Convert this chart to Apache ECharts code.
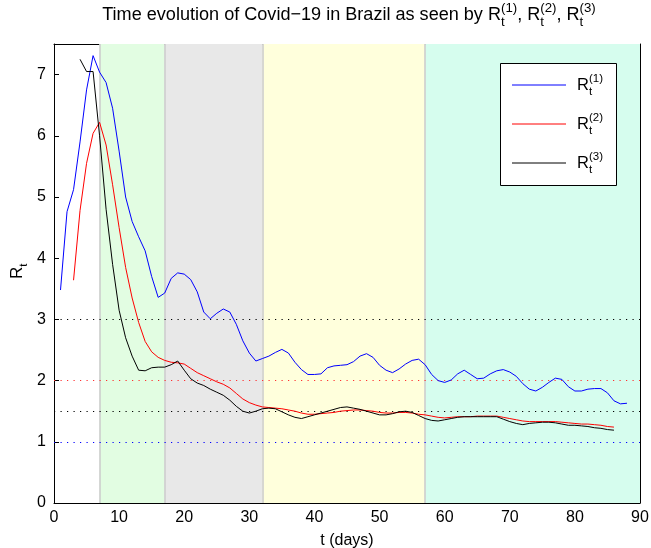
<!DOCTYPE html>
<html><head><meta charset="utf-8">
<script src="https://cdn.jsdelivr.net/npm/echarts@6/dist/echarts.min.js"></script>
<style>html,body{margin:0;padding:0;background:#fff}#c{width:651px;height:548px}</style>
</head><body><div id="c"></div>
<script>
// ---------- data ----------
const r1Start = 1;
const r1Values = [3.48,4.76,5.12,5.90,6.75,7.31,7.04,6.87,6.45,5.75,5.00,4.60,4.35,4.12,3.70,3.36,3.43,3.67,3.76,3.74,
  3.65,3.45,3.12,3.01,3.10,3.17,3.12,2.92,2.65,2.45,2.32,2.36,2.40,2.46,2.51,2.45,2.30,2.18,2.10,2.10,
  2.11,2.21,2.24,2.25,2.26,2.31,2.40,2.44,2.38,2.25,2.17,2.13,2.19,2.27,2.33,2.35,2.26,2.10,2.00,1.97,
  2.01,2.11,2.17,2.10,2.03,2.04,2.11,2.16,2.18,2.14,2.07,1.95,1.86,1.83,1.89,1.97,2.04,2.02,1.90,1.83,
  1.83,1.86,1.87,1.87,1.80,1.67,1.62,1.63];
const r2Start = 3;
const r2Values = [3.64,4.78,5.55,6.04,6.22,5.85,5.20,4.50,3.85,3.35,2.95,2.64,2.47,2.38,2.33,2.30,2.29,2.27,
  2.20,2.13,2.08,2.03,1.98,1.94,1.88,1.79,1.70,1.64,1.60,1.57,1.56,1.55,1.54,1.52,1.50,1.47,1.45,1.45,
  1.46,1.47,1.48,1.50,1.51,1.52,1.52,1.51,1.50,1.48,1.47,1.47,1.48,1.48,1.47,1.45,1.44,1.42,1.40,1.39,
  1.40,1.41,1.41,1.41,1.42,1.42,1.42,1.42,1.40,1.38,1.36,1.34,1.33,1.33,1.33,1.33,1.33,1.32,1.31,1.30,
  1.29,1.29,1.28,1.27,1.25,1.24];
const r3Start = 4;
const r3Values = [7.25,7.05,7.05,6.00,4.80,3.90,3.15,2.70,2.40,2.17,2.16,2.21,2.22,2.22,2.26,2.32,2.17,
  2.03,1.96,1.92,1.86,1.81,1.76,1.68,1.58,1.50,1.47,1.50,1.54,1.55,1.54,1.49,1.44,1.40,1.38,1.41,1.44,
  1.47,1.50,1.53,1.56,1.57,1.55,1.53,1.50,1.47,1.44,1.44,1.46,1.49,1.50,1.48,1.43,1.38,1.35,1.34,1.36,
  1.38,1.40,1.41,1.41,1.41,1.41,1.41,1.41,1.37,1.33,1.30,1.28,1.30,1.31,1.32,1.32,1.31,1.29,1.27,1.27,
  1.26,1.25,1.23,1.22,1.20,1.19];
const xTickValues = [0,10,20,30,40,50,60,70,80,90];
const yTickValues = [0,1,2,3,4,5,6,7];
const phaseEdges = [7,17,32,57,90];
const refLevels = [3,2,1.5,1];
const seriesNames = ['1','2','3'];

// ---------- styles ----------
const phaseColors = ['#e2fde2','#e8e8e8','#ffffdc','#d6fdee'];
const refColors = ['#000000','#ff3030','#000000','#0000ff'];
const lineColors = ['#0000ff','#ff0000','#000000'];
const FONT = "'Liberation Sans', Arial, Helvetica, sans-serif";

const ctx = document.createElement('canvas').getContext('2d');
function tw(t, size){ ctx.font = size + 'px ' + FONT; return ctx.measureText(t).width; }

function textEl(t, x, y, size, extra){
  return Object.assign({type:'text', x:x, y:y, silent:true,
    style:{text:t, font: size+'px '+FONT, fill:'#000', verticalAlign:'middle', align:'left'}}, extra||{});
}
function mathRow(parts, x0, yMid, size, small){
  const els = []; let x = x0;
  parts.forEach(p => {
    if (typeof p === 'string') { els.push(textEl(p, x, yMid, size)); x += tw(p, size); }
    else {
      els.push(textEl(p.b, x, yMid, size)); x += tw(p.b, size);
      let w = 0;
      if (p.sub) { els.push(textEl(p.sub, x, yMid + 0.42*size, small)); w = Math.max(w, tw(p.sub, small)); }
      if (p.sup) { els.push(textEl(p.sup, x, yMid - 0.38*size, small)); w = Math.max(w, tw(p.sup, small)); }
      x += w;
    }
  });
  return {els, width: x - x0};
}
function rowWidth(parts, size, small){ return mathRow(parts, 0, 0, size, small).width; }

const graphics = [];
// title (fit to reference width)
const titleParts = ['Time evolution of Covid\u221219 in Brazil as seen by ',
  {b:'R', sub:'t', sup:'(1)'}, ', ', {b:'R', sub:'t', sup:'(2)'}, ', ', {b:'R', sub:'t', sup:'(3)'}];
const baseW = rowWidth(titleParts, 15, 11);
const fit = 494 / baseW;
const titleSize = 15 * fit, titleSmall = 11 * fit;
const tW = rowWidth(titleParts, titleSize, titleSmall);
graphics.push(...mathRow(titleParts, 349 - tW/2, 15, titleSize, titleSmall).els);

// legend box
graphics.push({type:'rect', shape:{x:500.5, y:63.5, width:116, height:122}, style:{fill:'#fff', stroke:'#000', lineWidth:1}, z:100});
seriesNames.forEach((n, i) => {
  const yy = 85 + i*39;
  graphics.push({type:'line', shape:{x1:512, y1:yy, x2:566, y2:yy}, style:{stroke:lineColors[i], lineWidth:1}, z:101});
  mathRow([{b:'R', sub:'t', sup:'('+n+')'}], 577, yy, 16.5, 11.5).els.forEach(e => { e.z = 101; graphics.push(e); });
});

// y-axis name R_t (rotated)
const yName = mathRow([{b:'R', sub:'t'}], 0, 0, 17, 11.5).els;
graphics.push({type:'group', x:17, y:279, rotation:Math.PI/2, children:yName});

const mk = (start, vals) => vals.map((v, i) => [start + i, v]);

const bandData = phaseColors.map((c, i) => [{xAxis: phaseEdges[i], itemStyle:{color:c}}, {xAxis: phaseEdges[i+1]}]);
const edgeLines = phaseEdges.slice(0, 4).map(e => ({xAxis: e}));
const refLines = refLevels.map((l, i) => ({yAxis: l, lineStyle:{color: refColors[i], type:[1.2,5.3], width:1.2}}));

const chart = echarts.init(document.getElementById('c'), null, {renderer:'canvas'});
chart.setOption({
  animation:false,
  backgroundColor:'#fff',
  textStyle:{fontFamily:FONT},
  grid:{left:54, right:11, top:44, bottom:45, containLabel:false, outerBoundsMode:'none'},
  xAxis:[{
    type:'value', min:0, max:90, interval:10,
    name:'t (days)', nameLocation:'middle', nameGap:30,
    nameTextStyle:{fontSize:16, color:'#000', fontFamily:FONT},
    axisLine:{show:true, lineStyle:{color:'#000', width:1}},
    axisTick:{show:true, inside:true, length:5, lineStyle:{color:'#000'}},
    axisLabel:{fontSize:16, color:'#000', margin:7, fontFamily:FONT,
      formatter: v => xTickValues.includes(v) ? String(v) : ''},
    splitLine:{show:false}
  },{
    type:'value', min:0, max:90, position:'top',
    axisLine:{show:true, onZero:false, lineStyle:{color:'#000', width:1}},
    axisTick:{show:false}, axisLabel:{show:false}, splitLine:{show:false}
  }],
  yAxis:[{
    type:'value', min:0, max:7.5, interval:1,
    axisLine:{show:true, lineStyle:{color:'#000', width:1}},
    axisTick:{show:true, inside:true, length:5, lineStyle:{color:'#000'}},
    axisLabel:{fontSize:16, color:'#000', margin:8, fontFamily:FONT, showMaxLabel:false,
      formatter: v => yTickValues.includes(v) ? String(v) : ''},
    splitLine:{show:false}
  },{
    type:'value', min:0, max:7.5, position:'right',
    axisLine:{show:true, onZero:false, lineStyle:{color:'#000', width:1}},
    axisTick:{show:false}, axisLabel:{show:false}, splitLine:{show:false}
  }],
  series:[
    {type:'line', name:'bands', data:[], z:1, silent:true,
     markArea:{silent:true, data:bandData},
     markLine:{silent:true, symbol:'none', label:{show:false},
       lineStyle:{color:'#cdcdcd', type:'solid', width:1.6}, data:edgeLines}},
    {type:'line', name:'refs', data:[], z:2, silent:true,
     markLine:{silent:true, symbol:'none', label:{show:false}, data:refLines}},
    {type:'line', name:'R1', data:mk(r1Start, r1Values), showSymbol:false, z:5,
     lineStyle:{color:lineColors[0], width:1}, itemStyle:{color:lineColors[0]}},
    {type:'line', name:'R2', data:mk(r2Start, r2Values), showSymbol:false, z:5,
     lineStyle:{color:lineColors[1], width:1}, itemStyle:{color:lineColors[1]}},
    {type:'line', name:'R3', data:mk(r3Start, r3Values), showSymbol:false, z:5,
     lineStyle:{color:lineColors[2], width:1}, itemStyle:{color:lineColors[2]}}
  ],
  graphic: graphics
});
</script></body></html>
